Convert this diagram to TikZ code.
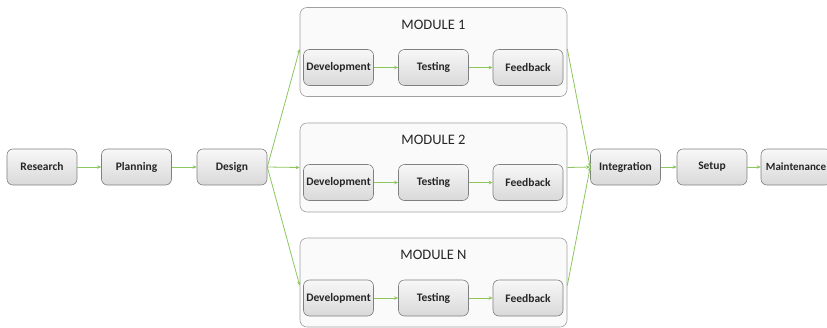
\documentclass[tikz,border=0pt]{standalone}
\usepackage{fontspec}
\setmainfont{Carlito}
\usetikzlibrary{arrows.meta}
\definecolor{flow}{HTML}{8CC65E}
\definecolor{boxline}{HTML}{808080}
\definecolor{modline}{HTML}{A0A0A0}
\begin{document}
\begin{tikzpicture}[x=1bp,y=-1bp,
  stepbox/.style={draw=boxline, line width=0.6bp, rounded corners=6bp,
    top color=white!94!gray, bottom color=gray!30,
    minimum width=70bp, minimum height=36bp, inner sep=1bp,
    font=\fontsize{11.5bp}{13bp}\selectfont\bfseries, text=black!85},
  modbox/.style={draw=modline, line width=0.6bp, rounded corners=7bp,
    fill=white!96!gray, minimum width=267bp, minimum height=89bp},
  modtitle/.style={font=\fontsize{14.5bp}{16bp}\selectfont, text=black!85},
  flowarrow/.style={draw=flow, line width=0.8bp,
    -{Stealth[length=4bp,width=3.5bp]}}]
\useasboundingbox (0,0) rectangle (827,327);

% main line
\node[stepbox] (research) at (42,167) {Research};
\node[stepbox] (planning) at (136.5,167) {Planning};
\node[stepbox] (design) at (232,167) {Design};
\node[stepbox] (integration) at (625.5,167) {Integration};
\node[stepbox] (setup) at (712,167) {Setup};
\node[stepbox, font=\fontsize{11bp}{13bp}\selectfont\bfseries] (maint) at (796,167) {Maintenance};

% module containers
\node[modbox] (m1) at (433.5,52) {};
\node[modbox] (m2) at (433.5,167.5) {};
\node[modbox] (mn) at (433.5,282.5) {};
\node[modtitle] (t1) at (433.5,25) {MODULE 1};
\node[modtitle] (t2) at (433.5,140) {MODULE 2};
\node[modtitle] (tn) at (433.5,255) {MODULE N};

% module steps
\foreach \m/\y in {1/67.5, 2/182.5, n/298} {
  \node[stepbox] (dev\m) at (338.5,\y) {Development};
  \node[stepbox] (test\m) at (433.5,\y) {Testing};
  \node[stepbox] (fb\m) at (528,\y) {Feedback};
  \draw[flowarrow] (dev\m) -- (test\m);
  \draw[flowarrow] (test\m) -- (fb\m);
}

% connectors
\draw[flowarrow] (research) -- (planning);
\draw[flowarrow] (planning) -- (design);
\draw[flowarrow] (design.east) -- ([yshift=3bp]m1.west);
\draw[flowarrow] (design.east) -- (m2.west);
\draw[flowarrow] (design.east) -- ([yshift=-3bp]mn.west);
\draw[flowarrow] ([yshift=3bp]m1.east) -- (integration.west);
\draw[flowarrow] (m2.east) -- (integration.west);
\draw[flowarrow] ([yshift=-3bp]mn.east) -- (integration.west);
\draw[flowarrow] (integration) -- (setup);
\draw[flowarrow] (setup) -- (maint);
\end{tikzpicture}
\end{document}
